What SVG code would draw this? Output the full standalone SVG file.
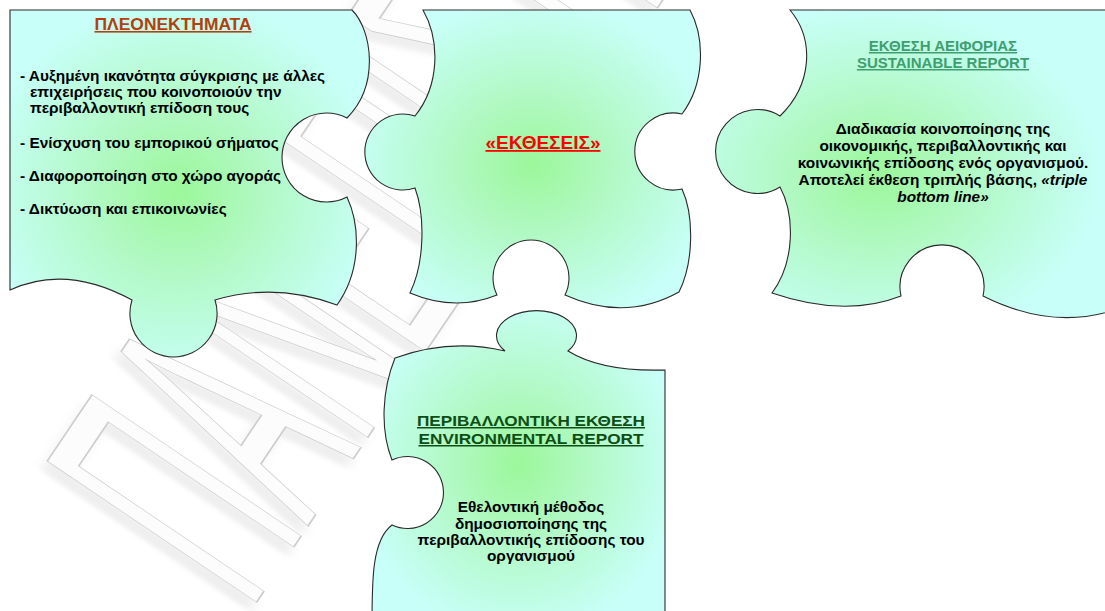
<svg xmlns="http://www.w3.org/2000/svg" width="1105" height="611" viewBox="0 0 1105 611">
  <style>
    .piece { stroke: #2a2a2a; stroke-width: 1.1; }
    .t { font-family: "Liberation Sans", Arial, sans-serif; font-weight: bold; font-size: 15.4px; fill: #000; }
    .c { text-anchor: middle; }
    .u { text-decoration: underline; }
    .h-adv { font-size: 16px; fill: #b4400e; }
    .h-rep { font-size: 18px; fill: #ff0000; }
    .h-sus { font-size: 15px; fill: #3f9f70; }
    .h-env { font-size: 15px; fill: #0e4e14; }
    .it { font-style: italic; }
    .wm { font-family: "Liberation Sans", Arial, sans-serif; font-size: 367px; }
  </style>
  <defs>
    <radialGradient id="g1" cx="0.47" cy="0.52" r="0.55">
      <stop offset="0" stop-color="#9cf79a"/>
      <stop offset="0.45" stop-color="#b2f9c6"/>
      <stop offset="1" stop-color="#c8fff8"/>
    </radialGradient>
    <radialGradient id="g2" cx="0.5" cy="0.52" r="0.55">
      <stop offset="0" stop-color="#9cf79a"/>
      <stop offset="0.45" stop-color="#b2f9c6"/>
      <stop offset="1" stop-color="#c8fff8"/>
    </radialGradient>
    <radialGradient id="g3" cx="0.4" cy="0.54" r="0.55">
      <stop offset="0" stop-color="#9cf79a"/>
      <stop offset="0.45" stop-color="#b2f9c6"/>
      <stop offset="1" stop-color="#c8fff8"/>
    </radialGradient>
    <radialGradient id="g4" cx="0.5" cy="0.49" r="0.55">
      <stop offset="0" stop-color="#9cf79a"/>
      <stop offset="0.45" stop-color="#b2f9c6"/>
      <stop offset="1" stop-color="#c8fff8"/>
    </radialGradient>
    <filter id="soft" x="-20%" y="-20%" width="140%" height="140%">
      <feGaussianBlur stdDeviation="6"/>
    </filter>
  </defs>

  <rect width="1105" height="611" fill="#ffffff"/>

  <!-- background watermark: condensed outlined lettering on a diagonal -->
  <g id="watermark">
    <text class="wm" fill="#e2e2e2" opacity="0.55" filter="url(#soft)" transform="translate(243,621) rotate(-56) scale(0.39,1)">ΠΑΝΕΠΙΣΤΗΜΙΟ</text>
    <text class="wm" fill="#fcfcfc" stroke="#cdcdcd" stroke-width="1.3" vector-effect="non-scaling-stroke" transform="translate(250,612) rotate(-56) scale(0.39,1)">ΠΑΝΕΠΙΣΤΗΜΙΟ</text>
  </g>

  <!-- top-left piece: advantages -->
  <g id="piece-advantages">
    <path class="piece" fill="url(#g1)" d="M10,10 H352 C372,30 380,85 347,118 A44.5,44.5 0 1 0 347,197 C360,225 362,270 337,305 Q275,282 215,300 A43.6,43.6 0 1 1 132,300 Q66,264 10,290 Z"/>
    <text class="t c u h-adv" x="173" y="30" textLength="157" lengthAdjust="spacingAndGlyphs">ΠΛΕΟΝΕΚΤΗΜΑΤΑ</text>
    <text class="t" x="20" y="81">- Αυξημένη ικανότητα σύγκρισης με άλλες</text>
    <text class="t" x="30" y="97">επιχειρήσεις που κοινοποιούν την</text>
    <text class="t" x="30" y="113">περιβαλλοντική επίδοση τους</text>
    <text class="t" x="20" y="148">- Ενίσχυση του εμπορικού σήματος</text>
    <text class="t" x="20" y="181">- Διαφοροποίηση στο χώρο αγοράς</text>
    <text class="t" x="20" y="214">- Δικτύωση και επικοινωνίες</text>
  </g>

  <!-- top-middle piece: reports -->
  <g id="piece-reports">
    <path class="piece" fill="url(#g2)" d="M423,10 H690 C706,40 704,85 682,114 A38.5,38.5 0 1 0 682,189 C694,215 694,262 679,292 Q625,322 565,295 A38,38 0 1 0 497,295 Q455,312 410,293 C425,262 425,215 415,188 A38,38 0 1 1 415,116 C440,85 440,40 423,10 Z"/>
    <text class="t c u h-rep" x="543" y="149" textLength="115" lengthAdjust="spacingAndGlyphs">«ΕΚΘΕΣΕΙΣ»</text>
  </g>

  <!-- top-right piece: sustainability report -->
  <g id="piece-sustainability">
    <path class="piece" fill="url(#g3)" d="M790,10 H1120 V308 Q1055,332 983,296 A42,42 0 1 0 901,296 Q845,318 772,293 C795,262 795,215 780,187 A42,42 0 1 1 780,116 C812,85 815,40 790,10 Z"/>
    <text class="t c u h-sus" x="943" y="51">ΕΚΘΕΣΗ ΑΕΙΦΟΡΙΑΣ</text>
    <text class="t c u h-sus" x="943" y="68">SUSTAINABLE REPORT</text>
    <text class="t c" x="943" y="134">Διαδικασία κοινοποίησης της</text>
    <text class="t c" x="943" y="151">οικονομικής, περιβαλλοντικής και</text>
    <text class="t c" x="943" y="168">κοινωνικής επίδοσης ενός οργανισμού.</text>
    <text class="t c" x="943" y="185">Αποτελεί έκθεση τριπλής βάσης, <tspan class="it">«triple</tspan></text>
    <text class="t c it" x="943" y="202">bottom line»</text>
  </g>

  <!-- bottom piece: environmental report -->
  <g id="piece-environmental">
    <path class="piece" fill="url(#g4)" d="M395,358 Q450,338 505,351 A40,25 0 1 1 568,351 Q602,372 665,370 V625 H372 C372,580 372,540 392,525 A36,36 0 1 0 392,460 C380,430 382,390 395,358 Z"/>
    <text class="t c u h-env" x="531" y="426" textLength="228" lengthAdjust="spacingAndGlyphs">ΠΕΡΙΒΑΛΛΟΝΤΙΚΗ ΕΚΘΕΣΗ</text>
    <text class="t c u h-env" x="531" y="444" textLength="225" lengthAdjust="spacingAndGlyphs">ENVIRONMENTAL REPORT</text>
    <text class="t c" x="531" y="512">Εθελοντική μέθοδος</text>
    <text class="t c" x="531" y="529">δημοσιοποίησης της</text>
    <text class="t c" x="531" y="545">περιβαλλοντικής επίδοσης του</text>
    <text class="t c" x="531" y="561">οργανισμού</text>
  </g>

  <!-- no connectors in this figure -->
  <g id="connectors"/>
</svg>
